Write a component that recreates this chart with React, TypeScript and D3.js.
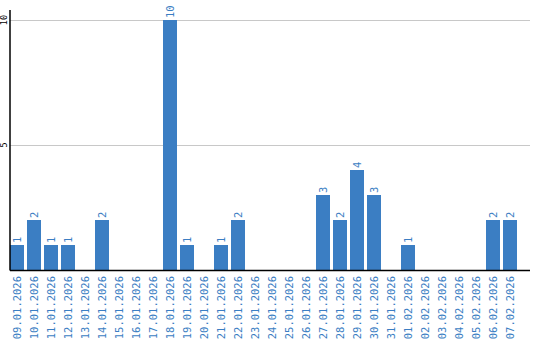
import React from "react";
import * as d3 from "d3";

const dates = [
  "09.01.2026","10.01.2026","11.01.2026","12.01.2026","13.01.2026","14.01.2026",
  "15.01.2026","16.01.2026","17.01.2026","18.01.2026","19.01.2026","20.01.2026",
  "21.01.2026","22.01.2026","23.01.2026","24.01.2026","25.01.2026","26.01.2026",
  "27.01.2026","28.01.2026","29.01.2026","30.01.2026","31.01.2026","01.02.2026",
  "02.02.2026","03.02.2026","04.02.2026","05.02.2026","06.02.2026","07.02.2026",
];
const counts = [1,2,1,1,0,2,0,0,0,10,1,0,1,2,0,0,0,0,3,2,4,3,0,1,0,0,0,0,2,2];
const yTicks = [5, 10];

const W = 540, H = 340;
const left = 10, right = 517, top = 20, bottom = 270, axisEnd = 530;
const blue = "#3b7ec3";
const font = "'DejaVu Sans Mono', monospace";

export default function App() {
  const x = d3.scaleBand<string>().domain(dates).range([left, right]).paddingInner(3 / 17).paddingOuter(0).align(0);
  const y = d3.scaleLinear().domain([0, 10]).range([bottom, top]);
  const bw = x.bandwidth();
  return (
    <svg width={W} height={H} style={{ position: "fixed", left: 0, top: 0, background: "#fff" }}>
      {yTicks.map((t) => (
        <g key={t}>
          <line x1={left} x2={axisEnd} y1={y(t) + 0.5} y2={y(t) + 0.5} stroke="#c8c8c8" strokeWidth={1} />
          <text
            transform={`translate(4.5,${y(t)}) rotate(-90)`}
            textAnchor="middle"
            dy="0.35em"
            fontSize={8.5}
            fontFamily={font}
            fill="#000"
          >
            {t}
          </text>
        </g>
      ))}
      {dates.map((d, i) => {
        const v = counts[i];
        const cx = (x(d) as number) + bw / 2;
        return (
          <g key={d}>
            {v > 0 && (
              <rect x={x(d)} y={y(v)} width={bw} height={bottom - y(v)} fill={blue} />
            )}
            {v > 0 && (
              <text
                transform={`translate(${cx},${y(v) - 2}) rotate(-90)`}
                textAnchor="start"
                dy="0.35em"
                fontSize={10.5}
                fontFamily={font}
                fill={blue}
              >
                {v}
              </text>
            )}
            <text
              transform={`translate(${cx},276) rotate(-90)`}
              textAnchor="end"
              dy="0.35em"
              fontSize={10.5}
              fontFamily={font}
              fill={blue}
            >
              {d}
            </text>
          </g>
        );
      })}
      <line x1={left} x2={left} y1={10} y2={bottom + 0.5} stroke="#000" strokeWidth={1.5} />
      <line x1={left} x2={axisEnd} y1={bottom + 0.5} y2={bottom + 0.5} stroke="#000" strokeWidth={1.5} />
    </svg>
  );
}
